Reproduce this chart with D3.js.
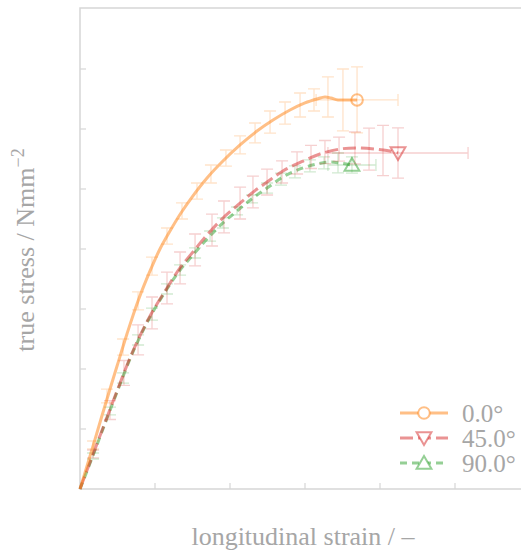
<!DOCTYPE html>
<html>
<head>
<meta charset="utf-8">
<script src="https://cdn.jsdelivr.net/npm/d3@7"></script>
<style>
  body { margin: 0; background: #fff; }
  text { font-family: "Liberation Serif", "DejaVu Serif", serif; fill: #a6a6a6; }
</style>
</head>
<body>
<svg width="521" height="551"></svg>
<script>
// series names and legend labels
const labels = ["0.0°", "45.0°", "90.0°"];
const colors = ["#ff7f0e", "#d62728", "#2ca02c"];

// mean curves (strain, stress)
const curve0 = [
  [0, 0], [0.0067, 27.5], [0.014, 58.3], [0.02, 83.3], [0.0247, 102.5], [0.0313, 129.2],
  [0.0387, 156.7], [0.0467, 181.7], [0.0533, 200], [0.06, 215], [0.0673, 230],
  [0.0747, 243.3], [0.0847, 259.2], [0.0953, 273.3], [0.1067, 286.7], [0.118, 298.3],
  [0.1287, 307.5], [0.14, 315.8], [0.15, 321.7], [0.158, 325], [0.1633, 326.7],
  [0.1673, 325.8], [0.172, 324.2], [0.178, 324.2], [0.1847, 324.2]
];
const curve45 = [
  [0, 0], [0.008, 26.7], [0.0153, 50.8], [0.0247, 81.7], [0.0353, 115], [0.0467, 144.2],
  [0.058, 167.5], [0.0667, 184.2], [0.0753, 197.5], [0.0847, 211.7], [0.0953, 225.8],
  [0.1053, 236.7], [0.1147, 246.7], [0.1247, 255.8], [0.1353, 265], [0.1487, 273.3],
  [0.16, 279.2], [0.1733, 283.3], [0.1847, 284.2], [0.1967, 283.3], [0.2067, 281.7],
  [0.212, 280]
];
const curve90 = [
  [0, 0], [0.008, 25.8], [0.0153, 50], [0.0247, 80.8], [0.0353, 114.2], [0.0467, 143.3],
  [0.058, 166.7], [0.0667, 182.5], [0.0753, 195], [0.0847, 208.3], [0.0953, 221.7],
  [0.1047, 231.7], [0.1153, 242.5], [0.1247, 250.8], [0.1353, 260], [0.1467, 266.7],
  [0.158, 270.8], [0.1667, 272.5], [0.1733, 271.7], [0.1813, 270]
];

// error bars (strain, stress, +/- stress)
const err0 = [
  [0.0087, 36.7, 3.3], [0.018, 77.5, 5.8], [0.0287, 118.3, 6.7], [0.0387, 156.7, 7.5],
  [0.048, 185.8, 7.5], [0.058, 210.8, 6.7], [0.068, 231.7, 6.7], [0.078, 248.3, 6.7],
  [0.0873, 262.5, 7.5], [0.0973, 275.8, 6.7], [0.1067, 286.7, 7.5], [0.1167, 296.7, 8.3],
  [0.1267, 305.8, 9.2], [0.1367, 313.3, 9.2], [0.1467, 320, 10], [0.156, 324.2, 9.2],
  [0.1653, 326.7, 16.7], [0.1753, 324.2, 25.8], [0.1847, 324.2, 27.5]
];
const err45 = [
  [0.0087, 29.2, 3.3], [0.02, 65.8, 7.9], [0.0293, 96.7, 10.4], [0.0387, 124.2, 12.5],
  [0.048, 146.7, 13.3], [0.058, 167.5, 13.3], [0.0667, 184.2, 13.3], [0.0767, 199.2, 13.3],
  [0.088, 215.8, 13.3], [0.096, 226.7, 13.3], [0.1067, 238.3, 13.3], [0.1153, 247.5, 13.3],
  [0.1247, 255.8, 10.8], [0.1347, 264.2, 9.2], [0.1447, 271.7, 9.2], [0.154, 276.7, 9.6],
  [0.1633, 280.8, 9.6], [0.1727, 283.3, 10], [0.1833, 284.2, 13.3], [0.1927, 283.3, 17.5],
  [0.202, 282.1, 21], [0.212, 280, 21]
];
const err90 = [
  [0.0087, 27.5, 2.5], [0.02, 65, 3.3], [0.0287, 92.5, 4.2], [0.0387, 124.2, 4.2],
  [0.048, 145.8, 5], [0.058, 166.7, 4.2], [0.0667, 182.5, 4.2], [0.0767, 196.7, 4.2],
  [0.0867, 210.8, 4.2], [0.0953, 221.7, 4.2], [0.1047, 231.7, 3.3], [0.1147, 241.7, 3.3],
  [0.1247, 250.8, 4.2], [0.134, 258.3, 5], [0.1433, 264.2, 5], [0.1533, 269.2, 5],
  [0.1627, 271.7, 5], [0.172, 271.7, 8.3], [0.1813, 270, 6.7]
];

// strain scatter at failure (horizontal error of last point)
const endStrainErr = [0.0273, 0.0467, 0.016];

const xTicks = [0.05, 0.1, 0.15, 0.2, 0.25];
const yTicks = [50, 100, 150, 200, 250, 300, 350];

const svg = d3.select("svg");
const plotLeft = 80, plotTop = 8, plotBottom = 489;

const x = d3.scaleLinear().domain([0, 0.3]).range([plotLeft, plotLeft + 450]);
const y = d3.scaleLinear().domain([0, 400]).range([plotBottom, plotBottom - 480]);

const curves = [curve0, curve45, curve90];
const errs = [err0, err45, err90];
const dashes = [null, "13,5", "7,5"];
const symbols = [d3.symbolCircle, d3.symbolTriangle, d3.symbolTriangle];
const symRot = [0, 180, 0];
const symSize = [105, 95, 95];
const symShift = [0, -1.5, 1.5];

// frame
const frame = svg.append("g");
frame.append("path")
  .attr("d", `M${521 + 2},${plotTop}H${plotLeft}V${plotBottom}H${521 + 2}`)
  .attr("fill", "none")
  .attr("stroke", "#d6d6d6")
  .attr("stroke-width", 1.5);

frame.selectAll(".xt").data(xTicks).enter().append("line")
  .attr("x1", d => x(d)).attr("x2", d => x(d))
  .attr("y1", plotBottom).attr("y2", plotBottom - 6)
  .attr("stroke", "#d6d6d6").attr("stroke-width", 1.2);

frame.selectAll(".yt").data(yTicks).enter().append("line")
  .attr("x1", plotLeft).attr("x2", plotLeft + 6)
  .attr("y1", d => y(d)).attr("y2", d => y(d))
  .attr("stroke", "#d6d6d6").attr("stroke-width", 1.2);

const line = d3.line()
  .x(d => x(d[0]))
  .y(d => y(d[1]))
  .curve(d3.curveCatmullRom.alpha(0.5));

const cap = 6;

// draw series back to front
[2, 1, 0].forEach(i => {
  const g = svg.append("g");
  const c = colors[i];

  // vertical error bars
  const eb = g.append("g")
    .attr("stroke", c)
    .attr("stroke-opacity", 0.22)
    .attr("stroke-width", 1.3)
    .attr("fill", "none");
  eb.selectAll("path").data(errs[i]).enter().append("path")
    .attr("d", d => {
      const px = x(d[0]), y1 = y(d[1] - d[2]), y2 = y(d[1] + d[2]);
      return `M${px},${y1}V${y2}M${px - cap},${y1}H${px + cap}M${px - cap},${y2}H${px + cap}`;
    });

  // horizontal error bar on last point
  const last = curves[i][curves[i].length - 1];
  const xa = x(last[0] - endStrainErr[i]), xb = x(last[0] + endStrainErr[i]), py = y(last[1]);
  eb.append("path")
    .attr("d", `M${xa},${py}H${xb}M${xa},${py - cap}V${py + cap}M${xb},${py - cap}V${py + cap}`);

  // mean curve
  g.append("path")
    .datum(curves[i])
    .attr("d", line)
    .attr("fill", "none")
    .attr("stroke", c)
    .attr("stroke-opacity", 0.5)
    .attr("stroke-width", 3)
    .attr("stroke-dasharray", dashes[i]);

  // end marker
  g.append("path")
    .attr("d", d3.symbol().type(symbols[i]).size(symSize[i]))
    .attr("transform", `translate(${x(last[0])},${py + symShift[i]}) rotate(${symRot[i]})`)
    .attr("fill", "none")
    .attr("stroke", c)
    .attr("stroke-opacity", 0.5)
    .attr("stroke-width", 2);
});

// legend
const legend = svg.append("g");
labels.forEach((lab, i) => {
  const ly = 413 + i * 25;
  legend.append("line")
    .attr("x1", 400).attr("x2", 448)
    .attr("y1", ly).attr("y2", ly)
    .attr("stroke", colors[i])
    .attr("stroke-opacity", 0.5)
    .attr("stroke-width", 3)
    .attr("stroke-dasharray", dashes[i]);
  legend.append("path")
    .attr("d", d3.symbol().type(symbols[i]).size(symSize[i]))
    .attr("transform", `translate(424,${ly + symShift[i]}) rotate(${symRot[i]})`)
    .attr("fill", "#fff")
    .attr("stroke", colors[i])
    .attr("stroke-opacity", 0.5)
    .attr("stroke-width", 2);
  legend.append("text")
    .attr("x", 462).attr("y", ly + 9)
    .attr("font-size", 25)
    .text(lab);
});

// axis labels
svg.append("text")
  .attr("x", 303).attr("y", 545)
  .attr("text-anchor", "middle")
  .attr("font-size", 26)
  .text("longitudinal strain / –");

const yl = svg.append("text")
  .attr("transform", "translate(34,250) rotate(-90)")
  .attr("text-anchor", "middle")
  .attr("font-size", 26);
yl.append("tspan").text("true stress / Nmm");
yl.append("tspan").attr("dy", -10).attr("font-size", 18).text("−2");
</script>
</body>
</html>
